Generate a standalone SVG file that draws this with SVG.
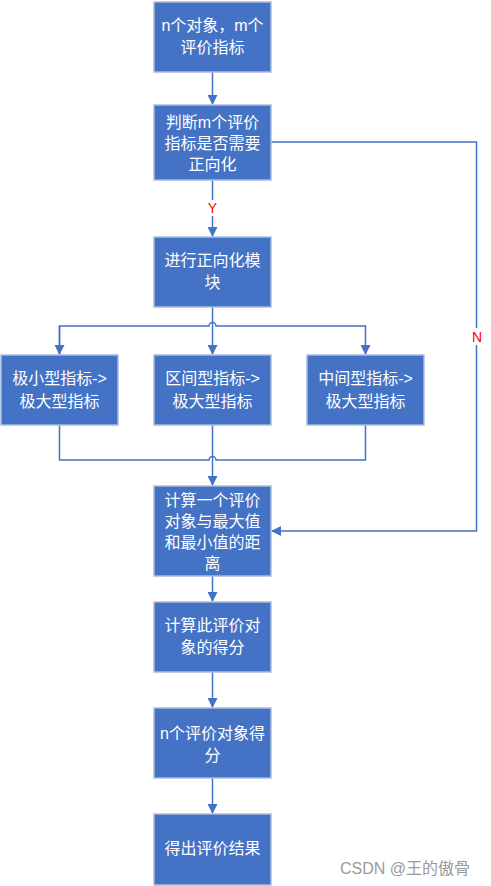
<svg xmlns="http://www.w3.org/2000/svg" width="491" height="886" viewBox="0 0 491 886">
<style>
.box{fill:#4472C4;stroke:#A9BCDD;stroke-width:1.5}
.t{fill:#fff;font-family:"Liberation Sans","Noto Sans CJK SC",sans-serif;font-size:16px;text-anchor:middle}
.c{fill:none;stroke:#4472C4;stroke-width:1.5}
.lbl{fill:#FF0000;font-family:"Liberation Sans",sans-serif;font-size:14px;text-anchor:middle}
.wm{fill:#9a9a9a;font-family:"Liberation Sans","Noto Sans CJK SC",sans-serif;font-size:16px}
</style>
<defs>
<marker id="ah" markerWidth="10" markerHeight="10" refX="9" refY="5" orient="auto" markerUnits="userSpaceOnUse">
<path d="M0,0 L10,5 L0,10 Z" fill="#4472C4"/>
</marker>
</defs>
<rect width="491" height="886" fill="#fff"/>
<g id="connectors">
<path class="c" d="M212.5,72 V104" marker-end="url(#ah)"/>
<path class="c" d="M212.5,180 V236" marker-end="url(#ah)"/>
<path class="c" d="M212.5,307 V354" marker-end="url(#ah)"/>
<path class="c" d="M59.5,354 V326 H209 a3.5,3.5 0 0 1 7,0 H365.5 V354" marker-end="url(#ah)"/>
<path class="c" d="M59.5,326 V354" marker-end="url(#ah)"/>
<path class="c" d="M59.5,425 V460 H209 a3.5,3.5 0 0 1 7,0 H365.5 V425"/>
<path class="c" d="M212.5,425 V485" marker-end="url(#ah)"/>
<path class="c" d="M271,142 H476.5 V531 H272" marker-end="url(#ah)"/>
<path class="c" d="M212.5,576 V601" marker-end="url(#ah)"/>
<path class="c" d="M212.5,672 V707" marker-end="url(#ah)"/>
<path class="c" d="M212.5,778 V813" marker-end="url(#ah)"/>
<rect x="204" y="200" width="17" height="16" fill="#fff"/>
<text class="lbl" x="212.5" y="213">Y</text>
<rect x="469" y="328" width="16" height="17" fill="#fff"/>
<text class="lbl" x="477" y="342">N</text>
</g>
<g id="n1"><rect class="box" x="154" y="2" width="117" height="70"/>
<text class="t" x="212.5" y="31">n个对象，m个</text><text class="t" x="212.5" y="53">评价指标</text></g>
<g id="n2"><rect class="box" x="154" y="105" width="117" height="75"/>
<text class="t" x="212.5" y="128">判断m个评价</text><text class="t" x="212.5" y="149">指标是否需要</text><text class="t" x="212.5" y="170">正向化</text></g>
<g id="n3"><rect class="box" x="154" y="237" width="117" height="70"/>
<text class="t" x="212.5" y="266">进行正向化模</text><text class="t" x="212.5" y="288">块</text></g>
<g id="n4"><rect class="box" x="1" y="355" width="117" height="70"/>
<text class="t" x="59.5" y="384">极小型指标-&gt;</text><text class="t" x="59.5" y="407">极大型指标</text></g>
<g id="n5"><rect class="box" x="154" y="355" width="117" height="70"/>
<text class="t" x="212.5" y="384">区间型指标-&gt;</text><text class="t" x="212.5" y="407">极大型指标</text></g>
<g id="n6"><rect class="box" x="307" y="355" width="117" height="70"/>
<text class="t" x="365.5" y="384">中间型指标-&gt;</text><text class="t" x="365.5" y="407">极大型指标</text></g>
<g id="n7"><rect class="box" x="154" y="486" width="117" height="90"/>
<text class="t" x="212.5" y="506">计算一个评价</text><text class="t" x="212.5" y="527">对象与最大值</text><text class="t" x="212.5" y="548">和最小值的距</text><text class="t" x="212.5" y="569">离</text></g>
<g id="n8"><rect class="box" x="154" y="602" width="117" height="70"/>
<text class="t" x="212.5" y="631">计算此评价对</text><text class="t" x="212.5" y="653">象的得分</text></g>
<g id="n9"><rect class="box" x="154" y="708" width="117" height="70"/>
<text class="t" x="212.5" y="739">n个评价对象得</text><text class="t" x="212.5" y="761">分</text></g>
<g id="n10"><rect class="box" x="154" y="814" width="117" height="71"/>
<text class="t" x="212.5" y="854">得出评价结果</text></g>
<text class="wm" x="340" y="874">CSDN @王的傲骨</text>
</svg>
